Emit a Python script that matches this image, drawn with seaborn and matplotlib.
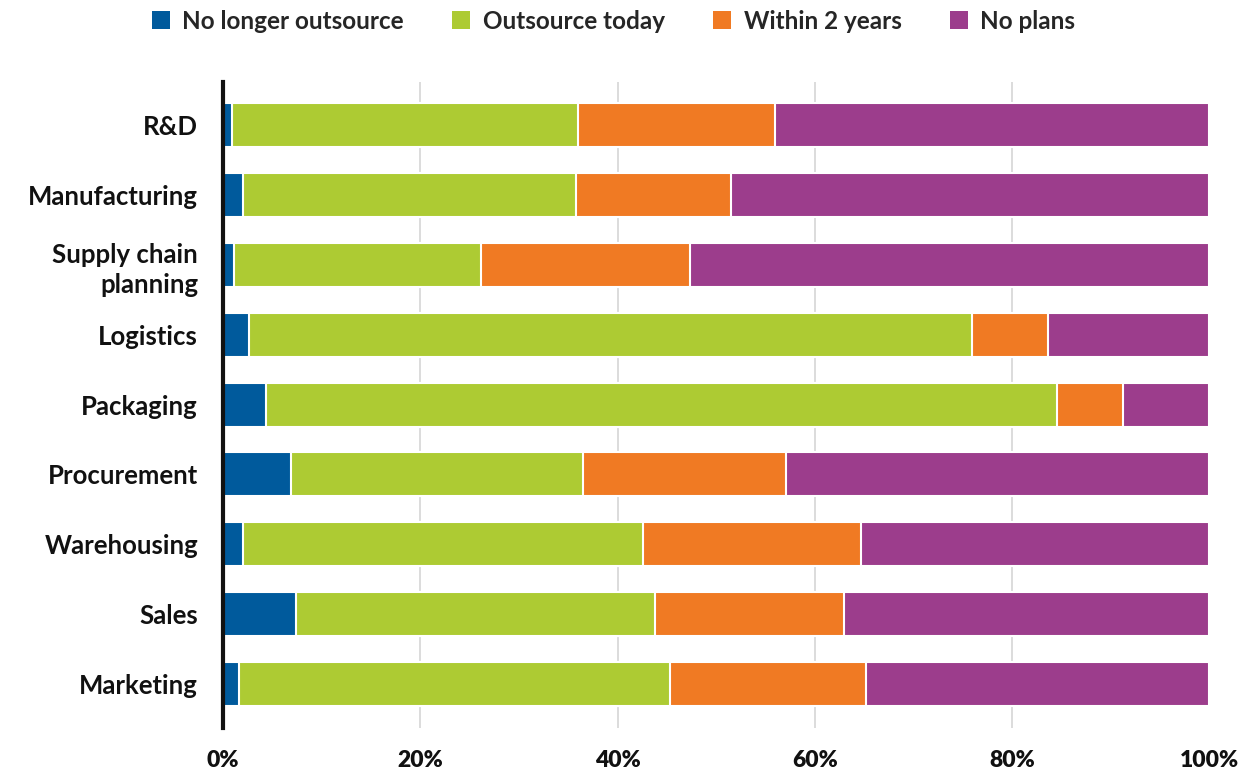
import matplotlib
matplotlib.use("Agg")
import matplotlib.pyplot as plt
import seaborn as sns
import pandas as pd
import numpy as np
from matplotlib.patches import Patch

categories = ["R&D", "Manufacturing", "Supply chain\nplanning", "Logistics", "Packaging",
              "Procurement", "Warehousing", "Sales", "Marketing"]
series_names = ["No longer outsource", "Outsource today", "Within 2 years", "No plans"]
no_longer = [0.95, 2.0, 1.1, 2.6, 4.4, 6.9, 2.0, 7.4, 1.6]
outsource_today = [35.05, 33.8, 25.0, 73.3, 80.1, 29.6, 40.6, 36.4, 43.7]
within_2_years = [20.0, 15.7, 21.2, 7.7, 6.7, 20.6, 22.1, 19.2, 19.9]
no_plans = [44.0, 48.5, 52.7, 16.4, 8.8, 42.9, 35.3, 37.0, 34.8]
xticks = [0, 20, 40, 60, 80, 100]
xtick_labels = ["0%", "20%", "40%", "60%", "80%", "100%"]
colors = ["#005A9C", "#ADCB33", "#F07A23", "#9C3D8C"]

sns.set_theme(style="white")
plt.rcParams["font.family"] = ["Lato", "DejaVu Sans"]

df = pd.DataFrame({"category": categories,
                   series_names[0]: no_longer,
                   series_names[1]: outsource_today,
                   series_names[2]: within_2_years,
                   series_names[3]: no_plans})
cum = df[series_names].cumsum(axis=1)

fig = plt.figure(figsize=(12.42, 7.73), dpi=100)
ax = fig.add_axes([0.1796, 0.058, 0.9738 - 0.1796, 0.894 - 0.058])

for name, color in reversed(list(zip(series_names, colors))):
    sns.barplot(x=cum[name], y=df["category"], orient="h", color=color, saturation=1,
                width=0.63, edgecolor="white", linewidth=1.5, ax=ax, zorder=2)

ax.set_xlim(0, 100)
ax.set_ylim(8.63, -0.615)
ax.set_xticks(xticks)
ax.set_xticklabels(xtick_labels, fontsize=16.5, fontweight="heavy", color="#111111")
ax.tick_params(axis="x", length=0, pad=16)
ax.tick_params(axis="y", length=0, pad=18)
for lab in ax.get_yticklabels():
    lab.set_fontsize(18.5)
    lab.set_fontweight("bold")
    lab.set_color("#111111")
    lab.set_multialignment("right")
    lab.set_linespacing(1.3)
ax.set_xlabel("")
ax.set_ylabel("")
for gx in [20, 40, 60, 80]:
    ax.axvline(gx, color="#d9d9d9", linewidth=1.3, zorder=0)
for s in ["top", "right", "bottom"]:
    ax.spines[s].set_visible(False)
ax.spines["left"].set_color("#111111")
ax.spines["left"].set_linewidth(3)
ax.spines["left"].set_zorder(5)

handles = [Patch(facecolor=c, edgecolor="none") for c in colors]
fig.legend(handles, series_names, loc="upper center", bbox_to_anchor=(0.494, 1.016), ncol=4,
           frameon=False, handlelength=0.75, handleheight=0.75, handletextpad=0.5,
           columnspacing=2.0, prop={"family": "Lato", "weight": "bold", "size": 17.5})

fig.savefig("out.png", dpi=100, facecolor="white")
